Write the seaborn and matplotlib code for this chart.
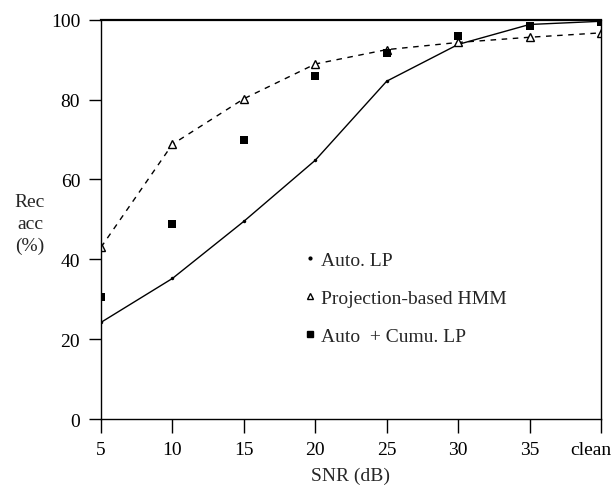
import pandas as pd
import seaborn as sns
import matplotlib.pyplot as plt
import matplotlib.transforms as mtransforms
from matplotlib.lines import Line2D

# values
snr_labels = ["5", "10", "15", "20", "25", "30", "35", "clean"]
snr_pos = [5, 10, 15, 20, 25, 30, 35, 40]
auto_lp = [24.2, 35.2, 49.5, 64.8, 84.6, 93.8, 98.8, 99.6]
proj_hmm = [43.0, 68.8, 80.2, 88.9, 92.5, 94.3, 95.6, 96.7]
auto_cumu = [30.5, 48.8, 69.8, 86.0, 91.7, 95.8, 98.3, 99.4]

df = pd.DataFrame({"snr": snr_pos, "auto": auto_lp, "proj": proj_hmm, "cumu": auto_cumu})

sns.set_style("ticks")
plt.rcParams["font.family"] = ["Liberation Serif", "DejaVu Serif"]
plt.rcParams["font.size"] = 14

fig = plt.figure(figsize=(6.14, 4.89), dpi=100)
ax = fig.add_axes([0.1645, 0.1411, 0.8143, 0.8166])

sns.lineplot(data=df, x="snr", y="auto", ax=ax, color="black", lw=1.0,
             marker="o", markersize=2.5, markeredgewidth=0)
sns.lineplot(data=df, x="snr", y="proj", ax=ax, color="black", lw=1.0,
             marker="^", markersize=6, markerfacecolor="white",
             markeredgecolor="black", markeredgewidth=1.0)
ax.lines[-1].set_dashes((4, 4))
sns.scatterplot(data=df, x="snr", y="cumu", ax=ax, color="black",
                marker="s", s=26, linewidth=0, zorder=5)

ax.set_xlim(5, 40)
ax.set_ylim(0, 100)
ax.set_xticks(snr_pos)
ax.set_xticklabels(snr_labels)
ax.set_yticks([0, 20, 40, 60, 80, 100])

for sp in ax.spines.values():
    sp.set_visible(True)
    sp.set_color("black")
    sp.set_linewidth(1.0)
ax.spines["top"].set_linewidth(1.6)

ax.tick_params(axis="y", direction="out", length=9, width=1, pad=6, colors="black")
ax.tick_params(axis="x", direction="out", length=10, width=1, pad=6, colors="black")

# "clean" sits a little left of its tick so it stays inside the figure
last = ax.get_xticklabels()[-1]
last.set_transform(last.get_transform() +
                   mtransforms.ScaledTranslation(-10 / 100, 0, fig.dpi_scale_trans))

ax.set_xlabel("SNR (dB)", fontsize=14, labelpad=6)
ax.set_ylabel("Rec\nacc\n(%)", fontsize=14, rotation=0, ha="center", va="center",
              linespacing=1.35)
ax.yaxis.set_label_coords(-0.142, 0.49)

handles = [
    Line2D([], [], ls="none", marker="o", markersize=2, color="black"),
    Line2D([], [], ls="none", marker="^", markersize=5, markerfacecolor="white",
           markeredgecolor="black"),
    Line2D([], [], ls="none", marker="s", markersize=5, color="black"),
]
labels = ["Auto. LP", "Projection-based HMM", "Auto  + Cumu. LP"]
ax.legend(handles, labels, loc="upper left", bbox_to_anchor=(0.386, 0.445),
          frameon=False, fontsize=14, handlelength=0.6, handletextpad=0.3,
          labelspacing=1.05, borderpad=0)

fig.savefig("out.png", dpi=100, facecolor="white")
